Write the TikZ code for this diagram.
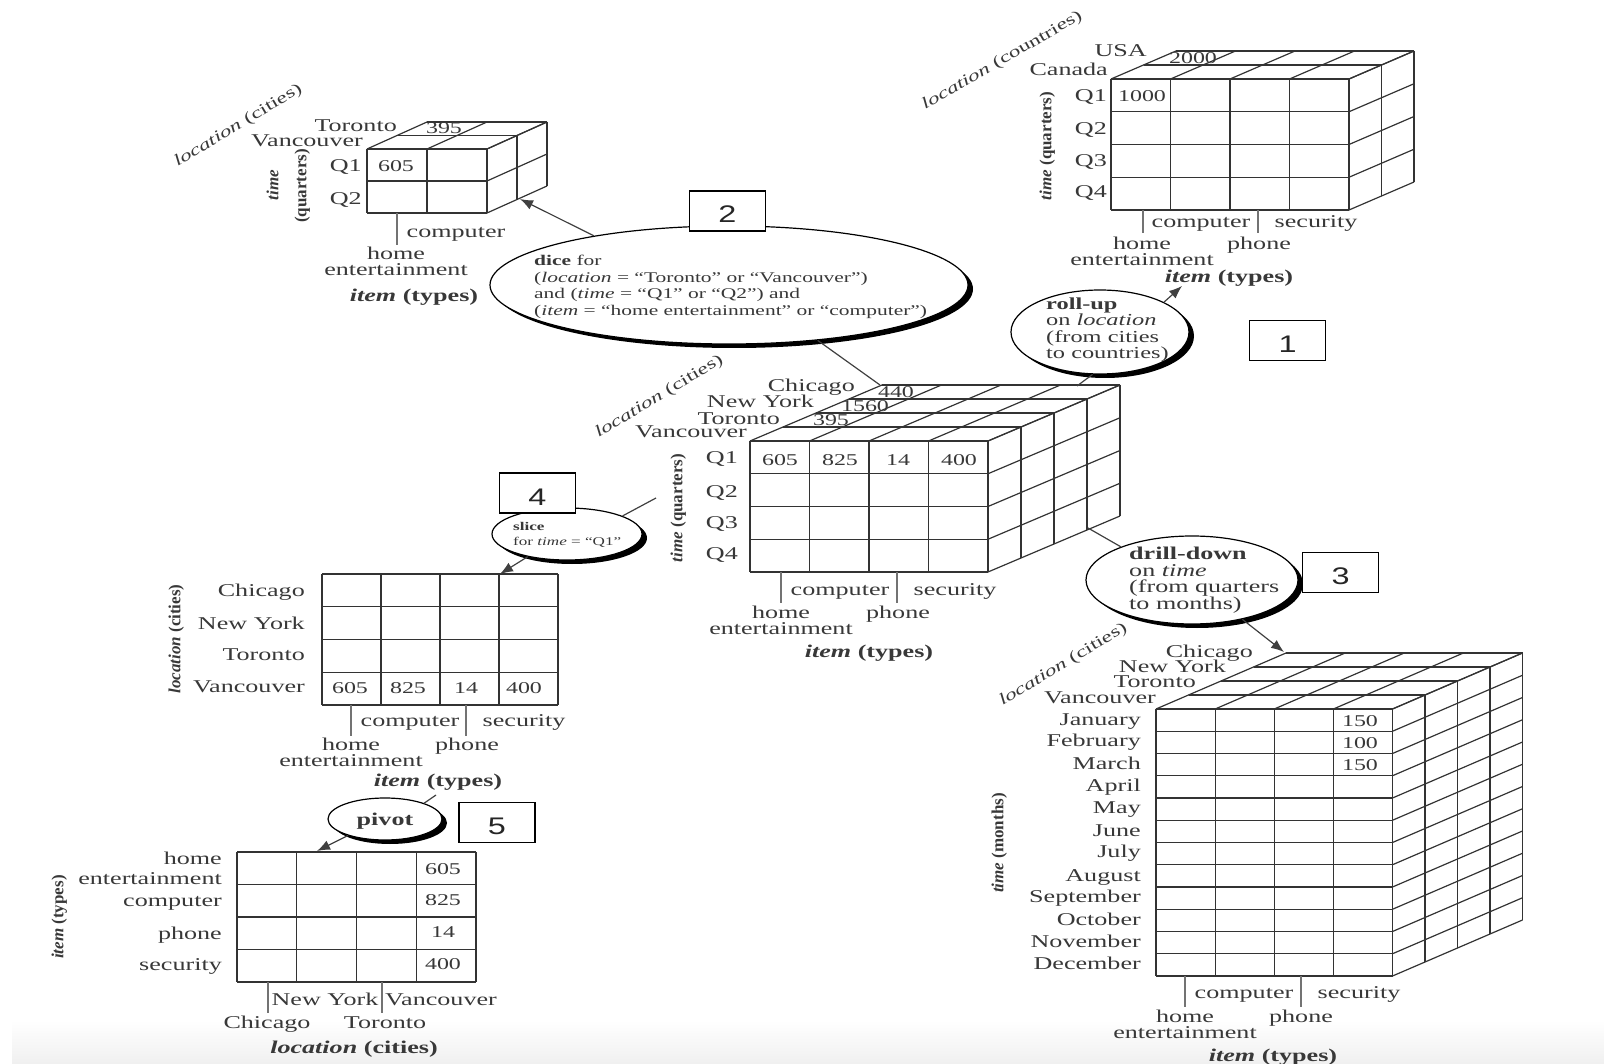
\documentclass[tikz,border=0pt]{standalone}
\usepackage{fontspec}
\setmainfont[FakeStretch=1.45]{Liberation Serif}
\newfontfamily\uprightfont{Liberation Serif}
\newfontfamily\boxfont[FakeStretch=1.35]{Liberation Sans}
\usetikzlibrary{positioning, shapes.geometric, arrows.meta, shadows}

\definecolor{inkgrey}{gray}{0.22}

% flat grid: left, top, width, height, columns, rows
\newcommand{\gridflat}[6]{%
  \foreach \cc in {0,...,#5}
    \draw[gridline] ({#1+\cc*#3/#5},#2) -- ++(0,#4);
  \foreach \rr in {0,...,#6}
    \draw[gridline] (#1,{#2+\rr*#4/#6}) -- ++(#3,0);
}
% top and side faces: left, top, width, height, columns, rows, step x, step y, layers
\newcommand{\gridside}[9]{%
  \foreach \cc in {0,...,#5}
    \draw[gridline] ({#1+\cc*#3/#5},#2) -- ++({#7*#9},{#8*#9});
  \foreach \rr in {0,...,#6}
    \draw[gridline] (#1+#3,{#2+\rr*#4/#6}) -- ++({#7*#9},{#8*#9});
  \foreach \ll in {1,...,#9} {
    \draw[gridline] ({#1+\ll*#7},{#2+\ll*#8}) -- ++(#3,0);
    \draw[gridline] ({#1+#3+\ll*#7},{#2+\ll*#8}) -- ++(0,#4);
  }
}

\begin{document}
\begin{tikzpicture}[x=1pt, y=-1pt,
      every node/.style={inner sep=0pt, text=inkgrey},
      gridline/.style={draw=black!80, line width=1.2pt},
      axistick/.style={draw=black!55, line width=1.8pt},
      lab/.style={anchor=mid, yshift=-3.5pt, font=\fontsize{18}{20}\selectfont},
      rlab/.style={lab, anchor=mid east},
      vallab/.style={lab, font=\fontsize{16.5}{20}\selectfont},
      vlab/.style={anchor=mid, rotate=90, font=\fontsize{17}{19}\selectfont\uprightfont\bfseries},
      slab/.style={anchor=mid, rotate=31, font=\fontsize{16}{19}\selectfont},
      bubble/.style={draw=black, line width=1.2pt, fill=white, ellipse,
                     general shadow={fill=black, shadow xshift=5pt, shadow yshift=-4pt}},
      bubbletext/.style={anchor=west, align=left, font=\fontsize{18}{16.5}\selectfont},
      numbox/.style={draw=black, line width=1.2pt, fill=white, minimum width=76pt, minimum height=40pt,
                     text height=24pt, text depth=0pt,
                     font=\fontsize{24}{24}\selectfont\boxfont, text=black!85},
      conn/.style={draw=black!75, line width=1.2pt},
      arrow/.style={conn, -{Latex[length=13pt, width=10pt]}},
  ]
    \useasboundingbox (0,0) rectangle (1604,1064);
    \shade[top color=white, bottom color=black!6, draw=none] (12,1020) rectangle (1604,1064);

    % cubes and tables
    \gridflat{367}{149}{120}{64}{2}{2}
    \gridside{367}{149}{120}{64}{2}{2}{30}{-13.5}{2}
    \gridflat{1111}{79}{238}{131}{4}{4}
    \gridside{1111}{79}{238}{131}{4}{4}{32.5}{-14}{2}
    \gridflat{750}{441}{238}{131}{4}{4}
    \gridside{750}{441}{238}{131}{4}{4}{33}{-14}{4}
    \gridflat{1156}{709}{236.5}{267}{4}{12}
    \gridside{1156}{709}{236.5}{267}{4}{12}{32.5}{-14}{4}
    \gridflat{322}{574}{236}{131}{4}{4}
    \gridflat{237}{852}{239}{130}{4}{4}

    % free ends of the connectors
    \coordinate (diceEnd) at (520,199);
    \coordinate (mainCorner) at (880,385);
    \coordinate (mainTop) at (1077,386);
    \coordinate (rollEnd) at (1182,286);
    \coordinate (mainLeft) at (656,498);
    \coordinate (sliceEnd) at (500,574);
    \coordinate (mainSide) at (1088,528);
    \coordinate (drillEnd) at (1284,652);
    \coordinate (typesEnd) at (436,795);
    \coordinate (pivotEnd) at (317,851);

    % operations
    \node[bubble, minimum width=478pt, minimum height=118pt] (dice) at (729,285) {};
    \node[bubble, minimum width=178pt, minimum height=84pt] (roll) at (1100,332) {};
    \node[bubble, minimum width=212pt, minimum height=88pt] (drill) at (1192,580) {};
    \node[bubble, minimum width=150pt, minimum height=52pt] (slice) at (567,534) {};
    \node[bubble, minimum width=114pt, minimum height=42pt] (pivot) at (385,819) {};

    \draw[arrow] (dice.160) -- (diceEnd);
    \draw[conn] (dice.-32) -- (mainCorner);
    \draw[conn] (roll.-100) -- (mainTop);
    \draw[arrow] (roll.25) -- (rollEnd);
    \draw[conn] (slice.18) -- (mainLeft);
    \draw[arrow] (slice.-150) -- (sliceEnd);
    \draw[conn] (drill.155) -- (mainSide);
    \draw[arrow] (drill.-38) -- (drillEnd);
    \draw[conn] (pivot.22) -- (typesEnd);
    \draw[arrow] (pivot.-156) -- (pivotEnd);

    \node[bubbletext, font=\fontsize{14.8}{16.5}\selectfont] (diceText) at (534,287)
      {\textbf{dice} for\\(\textit{location} = ``Toronto'' or ``Vancouver'')\\and (\textit{time} = ``Q1'' or ``Q2'') and\\(\textit{item} = ``home entertainment'' or ``computer'')};
    \node[bubbletext, font=\fontsize{16.8}{16.5}\selectfont] (rollText) at (1046,330)
      {\textbf{roll-up}\\on \textit{location}\\(from cities\\to countries)};
    \node[bubbletext] (drillText) at (1129,580)
      {\textbf{drill-down}\\on \textit{time}\\(from quarters\\to months)};
    \node[bubbletext, font=\fontsize{11.8}{15}\selectfont] (sliceText) at (513,535)
      {\textbf{slice}\\for \textit{time} = ``Q1''};
    \node[lab] (pivotText) at (385,820) {\textbf{pivot}};

    \node[numbox] (numOne) at (1287.5,340.5) {1};
    \node[numbox] (numTwo) at (727.5,211) {2};
    \node[numbox] (numThree) at (1340.5,572.5) {3};
    \node[numbox] (numFour) at (537.5,493) {4};
    \node[numbox] (numFive) at (497,822.5) {5};

    % dice result
    \node[rlab] (aToronto) at (397,126) {Toronto};
    \node[rlab] (aVancouver) at (363,141) {Vancouver};
    \node[rlab] (aQone) at (362,166) {Q1};
    \node[rlab] (aQtwo) at (362,199) {Q2};
    \node[vallab] (aVal) at (396,166) {605};
    \node[vallab] (aBack) at (444,128) {395};
    \node[slab] (aLoc) at (239,127) {\textit{location} (cities)};
    \node[vlab] (aTime) at (276,185) {\textit{time}};
    \node[vlab] (aQuarters) at (304,186) {(quarters)};
    \draw[axistick] (397,213) -- (397,245);
    \node[lab] (aComp) at (456,232) {computer};
    \node[lab] (aHome) at (396,254) {home};
    \node[lab] (aEnt) at (396,270) {entertainment};
    \node[lab] (aItem) at (414,296) {\textbf{\textit{item} (types)}};

    % roll-up result
    \node[rlab] (bUSA) at (1147,51) {USA};
    \node[rlab] (bCanada) at (1108,70) {Canada};
    \foreach \yy/\qq in {96/1,129/2,161/3,192/4}
      \node[rlab] (bQ\qq) at (1107,\yy) {Q\qq};
    \node[vallab] (bVal) at (1142,96) {1000};
    \node[vallab] (bBack) at (1193,58) {2000};
    \node[slab, rotate=-1] (bLoc) at (1003,62) {\textit{location} (countries)};
    \node[vlab] (bTime) at (1049,146) {\textit{time} (quarters)};
    \draw[axistick] (1143,210) -- (1143,233);
    \draw[axistick] (1258,210) -- (1258,233);
    \node[lab] (bComp) at (1201,222) {computer};
    \node[lab] (bSec) at (1316,222) {security};
    \node[lab] (bHome) at (1142,244) {home};
    \node[lab] (bPhone) at (1259,244) {phone};
    \node[lab] (bEnt) at (1142,260) {entertainment};
    \node[lab] (bItem) at (1229,277) {\textbf{\textit{item} (types)}};

    % central cube
    \node[rlab] (mChicago) at (855,386) {Chicago};
    \node[rlab] (mNewYork) at (814,402) {New York};
    \node[rlab] (mToronto) at (780,419) {Toronto};
    \node[rlab] (mVancouver) at (747,432) {Vancouver};
    \foreach \yy/\qq in {458/1,492/2,523/3,554/4}
      \node[rlab] (mQ\qq) at (738,\yy) {Q\qq};
    \foreach \xx/\vv in {780/605,840/825,898/14,959/400}
      \node[vallab] (mVal\vv) at (\xx,460) {\vv};
    \node[vallab] (mBackA) at (896,392) {440};
    \node[vallab] (mBackB) at (865,406) {1560};
    \node[vallab] (mBackC) at (831,420) {395};
    \node[slab] (mLoc) at (660,398) {\textit{location} (cities)};
    \node[vlab] (mTime) at (680,508) {\textit{time} (quarters)};
    \draw[axistick] (781,572) -- (781,603);
    \draw[axistick] (897,572) -- (897,603);
    \node[lab] (mComp) at (840,590) {computer};
    \node[lab] (mSec) at (955,590) {security};
    \node[lab] (mHome) at (781,613) {home};
    \node[lab] (mPhone) at (898,613) {phone};
    \node[lab] (mEnt) at (781,629) {entertainment};
    \node[lab] (mItem) at (869,652) {\textbf{\textit{item} (types)}};

    % drill-down result
    \node[rlab] (dChicago) at (1253,652) {Chicago};
    \node[rlab] (dNewYork) at (1226,667) {New York};
    \node[rlab] (dToronto) at (1196,682) {Toronto};
    \node[rlab] (dVancouver) at (1156,698) {Vancouver};
    \foreach \yy/\mon in {720/January,741/February,764/March,786/April,808/May,831/June,
                          852/July,876/August,897/September,920/October,942/November,964/December}
      \node[rlab] (d\mon) at (1141,\yy) {\mon};
    \node[vallab] (dValA) at (1360,721) {150};
    \node[vallab] (dValB) at (1360,743) {100};
    \node[vallab] (dValC) at (1360,765) {150};
    \node[slab] (dLoc) at (1064,666) {\textit{location} (cities)};
    \node[vlab] (dTime) at (1001,843) {\textit{time} (months)};
    \draw[axistick] (1185,976) -- (1185,1007);
    \draw[axistick] (1301,976) -- (1301,1007);
    \node[lab] (dComp) at (1244,993) {computer};
    \node[lab] (dSec) at (1359,993) {security};
    \node[lab] (dHome) at (1185,1017) {home};
    \node[lab] (dPhone) at (1301,1017) {phone};
    \node[lab] (dEnt) at (1185,1033) {entertainment};
    \node[lab] (dItem) at (1273,1056) {\textbf{\textit{item} (types)}};

    % slice result
    \node[rlab] (sChicago) at (305,591) {Chicago};
    \node[rlab] (sNewYork) at (305,624) {New York};
    \node[rlab] (sToronto) at (305,655) {Toronto};
    \node[rlab] (sVancouver) at (305,687) {Vancouver};
    \foreach \xx/\vv in {350/605,408/825,466/14,524/400}
      \node[vallab] (sVal\vv) at (\xx,688) {\vv};
    \node[vlab] (sLoc) at (178,639) {\textit{location} (cities)};
    \draw[axistick] (351,705) -- (351,736);
    \draw[axistick] (466,705) -- (466,736);
    \node[lab] (sComp) at (410,721) {computer};
    \node[lab] (sSec) at (524,721) {security};
    \node[lab] (sHome) at (351,745) {home};
    \node[lab] (sPhone) at (467,745) {phone};
    \node[lab] (sEnt) at (351,761) {entertainment};
    \node[lab] (sItem) at (438,781) {\textbf{\textit{item} (types)}};

    % pivot result
    \node[rlab] (pHome) at (222,859) {home};
    \node[rlab] (pEnt) at (222,879) {entertainment};
    \node[rlab] (pComp) at (222,901) {computer};
    \node[rlab] (pPhone) at (222,934) {phone};
    \node[rlab] (pSec) at (222,965) {security};
    \foreach \yy/\vv in {869/605,900/825,932/14,964/400}
      \node[vallab] (pVal\vv) at (443,\yy) {\vv};
    \node[vlab] (pItem) at (61,917) {\textit{item} (types)};
    \draw[axistick] (268,982) -- (268,1013);
    \draw[axistick] (382,982) -- (382,1013);
    \node[lab] (pNewYork) at (325,1000) {New York};
    \node[lab] (pVancouver) at (441,1000) {Vancouver};
    \node[lab] (pChicago) at (267,1023) {Chicago};
    \node[lab] (pToronto) at (385,1023) {Toronto};
    \node[lab] (pLoc) at (354,1048) {\textbf{\textit{location} (cities)}};
\end{tikzpicture}
\end{document}
